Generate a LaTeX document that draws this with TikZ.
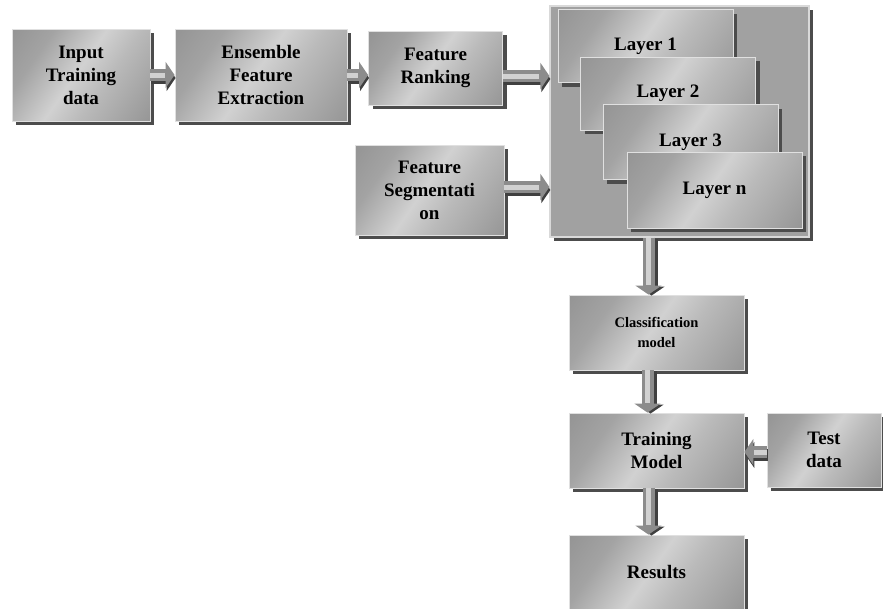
\documentclass[tikz,border=0pt]{standalone}
\usepackage{fontspec}
\setmainfont{Liberation Serif}
\usetikzlibrary{shadows,arrows.meta,calc}
\pgfdeclarehorizontalshading{boxshade}{100bp}{color(0bp)=(black!48); color(30bp)=(black!36); color(48bp)=(black!18); color(60bp)=(black!27); color(100bp)=(black!50)}
\tikzset{
  box/.style={draw=black!12, line width=0.9pt, shading=boxshade, shading angle=-35,
    general shadow={fill=black!70, shadow xshift=4pt, shadow yshift=-4pt},
    inner sep=0pt, align=center, font=\fontsize{19}{23}\selectfont\bfseries},
  cont/.style={draw=black!15, line width=1.2pt, fill=black!37,
    general shadow={fill=black!70, shadow xshift=4pt, shadow yshift=-4pt}, inner sep=0pt},
  arrowbody/.style={line width=12pt, draw=black!45, -{Triangle[width=26pt,length=9pt]}},
  arrowshadow/.style={line width=12pt, draw=black!75, -{Triangle[width=26pt,length=9pt]}},
  arrowlight/.style={line width=5pt, draw=black!18, shorten >=10pt}
}
\newcommand{\myarrow}[3]{%
  \draw[arrowshadow, transform canvas={shift={(#3)}}] (#1) -- (#2);
  \draw[arrowbody] (#1) -- (#2);
  \draw[arrowlight] (#1) -- (#2);}
\begin{document}
\begin{tikzpicture}[x=1pt,y=-1pt]
\useasboundingbox (0,0) rectangle (883,608);
% nodes
\node[box, minimum width=138pt, minimum height=92pt] (in) at (81,75) {Input\\Training\\data};
\node[box, minimum width=172pt, minimum height=92pt] (ens) at (261,75) {Ensemble\\Feature\\Extraction};
\node[box, minimum width=134pt, minimum height=74pt] (rank) at (435.5,68) {Feature\\Ranking};
\node[box, minimum width=149pt, minimum height=90pt] (seg) at (429.5,190) {Feature\\Segmentati\\on};
\node[cont, minimum width=259pt, minimum height=231pt] (cont) at (679.5,121.5) {};
\node[box, minimum width=175pt, minimum height=73pt] (l1) at (645.5,46) {Layer 1};
\node[box, minimum width=175pt, minimum height=73pt] (l2) at (668,93.5) {Layer 2};
\node[box, minimum width=175pt, minimum height=75pt] (l3) at (690.5,142) {Layer 3};
\node[box, minimum width=175pt, minimum height=76pt] (ln) at (714.5,190) {Layer n};
\node[box, minimum width=175pt, minimum height=75pt, font=\fontsize{14.5}{20}\selectfont\bfseries] (cls) at (656.5,332.5) {Classification\\model};
\node[box, minimum width=175pt, minimum height=75pt] (train) at (656.5,450.5) {Training\\Model};
\node[box, minimum width=114pt, minimum height=74pt] (test) at (824,450) {Test\\data};
\node[box, minimum width=175pt, minimum height=74pt] (res) at (656.5,572) {Results};
% arrow end points
\coordinate (a1s) at (in.east);
\coordinate (a1e) at (ens.west);
\coordinate (a2s) at (ens.east);
\coordinate (a2e) at ($(rank.west)+(0,7)$);
\coordinate (a3s) at ($(rank.east)+(0,8)$);
\coordinate (a3e) at (cont.west |- a3s);
\coordinate (a4s) at ($(seg.east)+(0,-3)$);
\coordinate (a4e) at (cont.west |- a4s);
\coordinate (a5s) at ($(cont.south)+(-31,0)$);
\coordinate (a5e) at (cls.north -| a5s);
\coordinate (a6s) at ($(cls.south)+(-9,0)$);
\coordinate (a6e) at (train.north -| a6s);
\coordinate (a7s) at ($(test.west)+(0,2)$);
\coordinate (a7e) at (train.east |- a7s);
\coordinate (a8s) at ($(train.south)+(-8,0)$);
\coordinate (a8e) at (res.north -| a8s);
\myarrow{a1s}{a1e}{1,3}
\myarrow{a2s}{a2e}{1,3}
\myarrow{a3s}{a3e}{1,3}
\myarrow{a4s}{a4e}{1,3}
\myarrow{a5s}{a5e}{3,1}
\myarrow{a6s}{a6e}{3,1}
\myarrow{a7s}{a7e}{1,3}
\myarrow{a8s}{a8e}{3,1}
\end{tikzpicture}
\end{document}
